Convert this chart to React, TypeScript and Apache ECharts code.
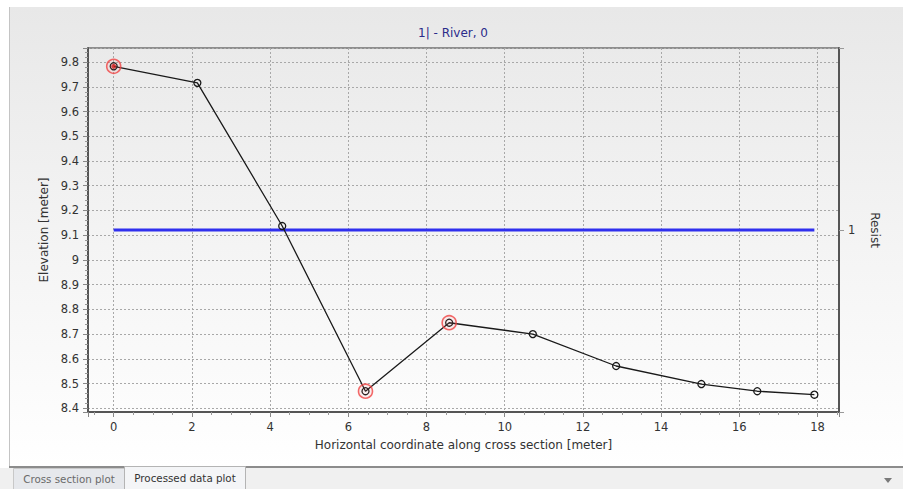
import React, { useEffect, useRef } from "react";
import * as echarts from "echarts";

const chartTitle = "1| - River, 0";
const xAxisName = "Horizontal coordinate along cross section [meter]";
const yAxisName = "Elevation [meter]";
const rightAxisName = "Resist";
const tabLabels = ["Cross section plot", "Processed data plot"];

const stations = [0, 2.14, 4.31, 6.44, 8.58, 10.72, 12.85, 15.03, 16.46, 17.92];
const elevations = [9.783, 9.716, 9.137, 8.469, 8.746, 8.7, 8.571, 8.498, 8.469, 8.455];
const highlightedIdx = [0, 3, 4];
const resistValue = 1;
const resistStart = 0;
const resistEnd = 17.92;

const FONT = "DejaVu Sans";

export default function App() {
  const ref = useRef<HTMLDivElement>(null);

  useEffect(() => {
    document.body.style.margin = "0";
    const chart = echarts.init(ref.current!, null, { renderer: "svg" });
    const mainData = stations.map((x, i) => [x, elevations[i]]);
    const ringData = highlightedIdx.map((i) => [stations[i], elevations[i]]);
    const yFmt = (v: number) => {
      const r = Math.round(v * 10) / 10;
      if (Math.abs(v - r) > 1e-6) return "";
      return String(r);
    };
    const xFmt = (v: number) => {
      const r = Math.round(v);
      if (Math.abs(v - r) > 1e-6 || r % 2 !== 0) return "";
      return String(r);
    };
    chart.setOption({
      animation: false,
      backgroundColor: "#ffffff",
      textStyle: { fontFamily: FONT },
      graphic: [
        {
          type: "rect",
          z: -100,
          shape: { x: 9, y: 7, width: 894, height: 460 },
          style: {
            fill: new echarts.graphic.LinearGradient(0, 0, 0, 1, [
              { offset: 0, color: "#e8e8e8" },
              { offset: 1, color: "#ffffff" },
            ]),
          },
          silent: true,
        },
        {
          type: "line",
          z: -90,
          shape: { x1: 9.5, y1: 7, x2: 9.5, y2: 467 },
          style: { stroke: "#c4c4c4", lineWidth: 1 },
        },
        {
          type: "rect",
          z: -90,
          shape: { x: 0, y: 468, width: 903, height: 21 },
          style: { fill: "#f0f0f0" },
        },
        {
          type: "line",
          z: -80,
          shape: { x1: 9, y1: 467, x2: 903, y2: 467 },
          style: { stroke: "#8c8c8c", lineWidth: 2 },
        },
        {
          type: "rect",
          z: -70,
          shape: { x: 13.5, y: 468.5, width: 111, height: 21 },
          style: { fill: "#e6e8ec", stroke: "#c8c8c8", lineWidth: 1 },
        },
        {
          type: "text",
          z: -60,
          style: {
            text: tabLabels[0],
            x: 69,
            y: 479,
            textAlign: "center",
            textVerticalAlign: "middle",
            fill: "#6a6a6a",
            font: `10.3px "${FONT}"`,
          },
        },
        {
          type: "rect",
          z: -70,
          shape: { x: 124.5, y: 466.5, width: 121, height: 23 },
          style: { fill: "#f4f5f7", stroke: "#b4b4b4", lineWidth: 1 },
        },
        {
          type: "text",
          z: -60,
          style: {
            text: tabLabels[1],
            x: 185,
            y: 478,
            textAlign: "center",
            textVerticalAlign: "middle",
            fill: "#333333",
            font: `10.3px "${FONT}"`,
          },
        },
        {
          type: "polygon",
          z: -60,
          shape: { points: [[884, 478], [892, 478], [888, 483]] },
          style: { fill: "#7a7a7a" },
        },
        {
          type: "text",
          style: {
            text: chartTitle,
            x: 453,
            y: 33,
            textAlign: "center",
            textVerticalAlign: "middle",
            fill: "#2b2b8a",
            font: `12px "${FONT}"`,
          },
        },
      ],
      grid: {
        left: 88,
        top: 48,
        right: 64,
        bottom: 77,
        show: true,
        borderColor: "#333",
        borderWidth: 1,
        backgroundColor: "transparent",
      },
      xAxis: {
        type: "value",
        min: -0.657,
        max: 18.55,
        splitNumber: 10,
        axisLine: { show: true, onZero: false, lineStyle: { color: "#555", width: 2 } },
        axisTick: { show: true, length: 5, lineStyle: { color: "#888" } },
        minorTick: { show: true, splitNumber: 4, length: 3, lineStyle: { color: "#999" } },
        splitLine: { show: true, lineStyle: { color: "#a8a8a8", type: [2, 2] } },
        axisLabel: { formatter: xFmt, color: "#333", fontSize: 11.5, fontFamily: FONT, margin: 9 },
        name: xAxisName,
        nameLocation: "middle",
        nameGap: 27,
        nameTextStyle: { color: "#333", fontSize: 12, fontFamily: FONT },
      },
      yAxis: [
        {
          type: "value",
          min: 8.385,
          max: 9.857,
          splitNumber: 14,
          axisLine: { show: true, onZero: false, lineStyle: { color: "#555", width: 2 } },
          axisTick: { show: true, length: 5, lineStyle: { color: "#888" } },
          minorTick: { show: true, splitNumber: 5, length: 3, lineStyle: { color: "#999" } },
          splitLine: { show: true, lineStyle: { color: "#a8a8a8", type: [2, 2] } },
          axisLabel: { formatter: yFmt, color: "#333", fontSize: 11.5, fontFamily: FONT, margin: 9 },
          name: yAxisName,
          nameLocation: "middle",
          nameRotate: 90,
          nameGap: 38,
          nameTextStyle: { color: "#333", fontSize: 12, fontFamily: FONT },
        },
        {
          type: "value",
          position: "right",
          min: 0,
          max: 2,
          interval: 1,
          axisLine: { show: true, onZero: false, lineStyle: { color: "#555", width: 2 } },
          axisTick: { show: true, length: 5, lineStyle: { color: "#999" } },
          splitLine: { show: false },
          axisLabel: {
            formatter: (v: number) => (v === resistValue ? String(v) : ""),
            color: "#333",
            fontSize: 11.5,
            fontFamily: FONT,
            margin: 9,
          },
          name: rightAxisName,
          nameLocation: "middle",
          nameRotate: -90,
          nameGap: 30,
          nameTextStyle: { color: "#333", fontSize: 12, fontFamily: FONT },
        },
      ],
      series: [
        {
          type: "line",
          yAxisIndex: 1,
          data: [
            [resistStart, resistValue],
            [resistEnd, resistValue],
          ],
          showSymbol: false,
          symbol: "none",
          lineStyle: { color: "#3030ee", width: 3 },
          z: 1,
          silent: true,
        },
        {
          type: "line",
          data: mainData,
          symbol: "circle",
          symbolSize: 7,
          lineStyle: { color: "#1a1a1a", width: 1.3 },
          itemStyle: { color: "rgba(0,0,0,0)", borderColor: "#1a1a1a", borderWidth: 1.3 },
          z: 3,
          silent: true,
        },
        {
          type: "scatter",
          data: ringData,
          symbol: "circle",
          symbolSize: 14,
          itemStyle: { color: "rgba(255,120,120,0.12)", borderColor: "#f04444", borderWidth: 1.6 },
          z: 4,
          silent: true,
        },
        {
          type: "scatter",
          data: [mainData[0]],
          symbol: "circle",
          symbolSize: 5,
          itemStyle: { color: "#d01818" },
          z: 5,
          silent: true,
        },
      ],
    });
    return () => chart.dispose();
  }, []);

  return (
    <div
      ref={ref}
      style={{ position: "fixed", left: 0, top: 0, width: 903, height: 489 }}
    />
  );
}
